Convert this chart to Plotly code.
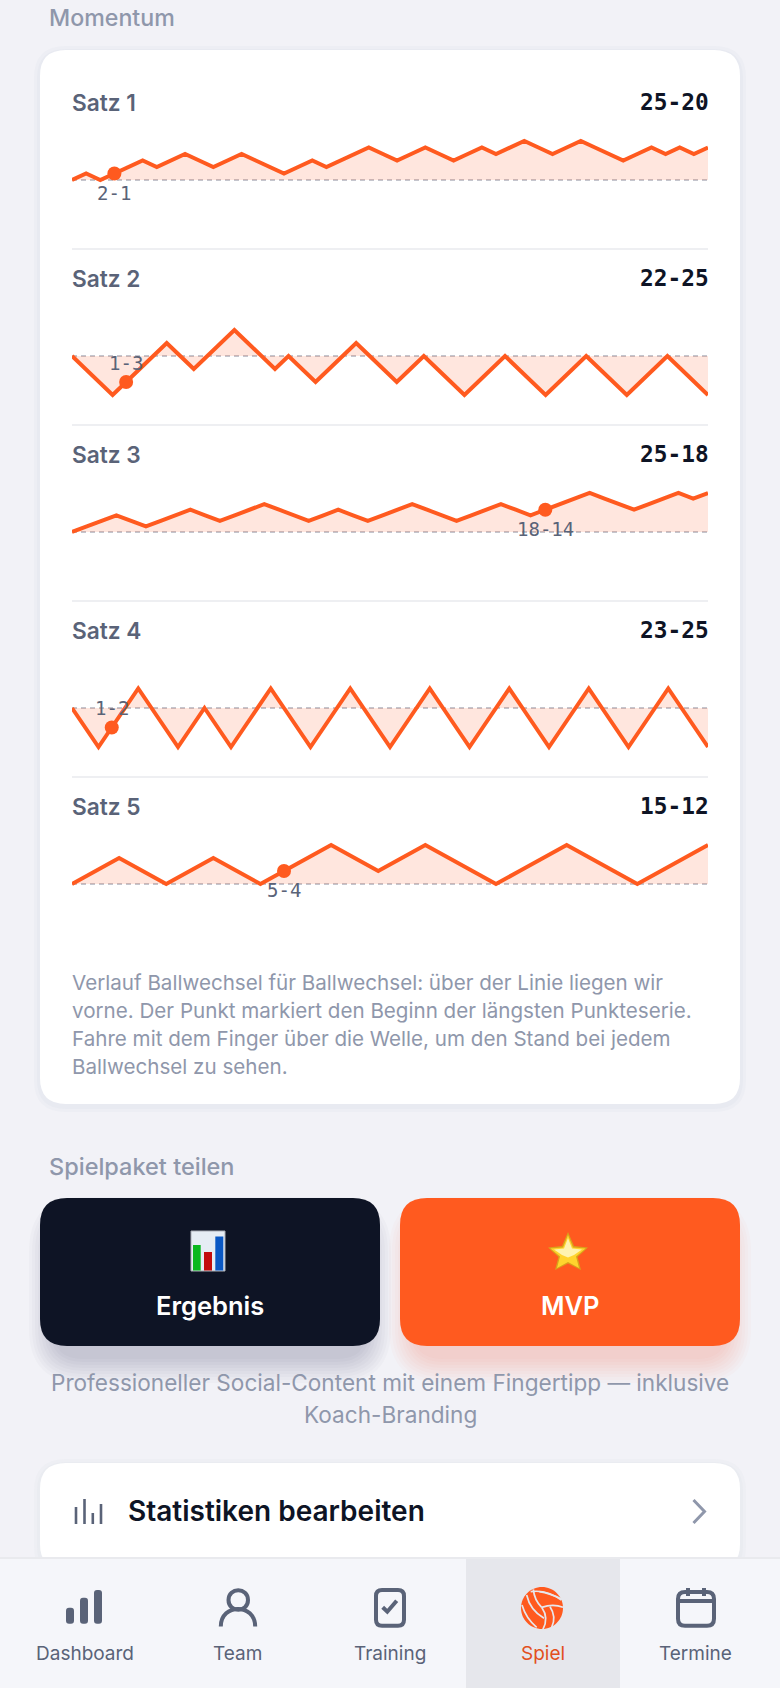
import plotly.graph_objects as go

W, H = 780, 1688

set_names = ["Satz 1", "Satz 2", "Satz 3", "Satz 4", "Satz 5"]
set_scores = ["25-20", "22-25", "25-18", "23-25", "15-12"]

# score difference after each rally
diff_1 = [0, 1, 0, 1, 2, 3, 2, 3, 4, 3, 2, 3, 4, 3, 2, 1, 2, 3, 2, 3, 4, 5, 4, 3, 4, 5, 4, 3, 4, 5, 4, 5, 6, 5, 4, 5, 6, 5, 4, 3, 4, 5, 4, 5, 4, 5]
diff_2 = [0, -1, -2, -3, -2, -1, 0, 1, 0, -1, 0, 1, 2, 1, 0, -1, 0, -1, -2, -1, 0, 1, 0, -1, -2, -1, 0, -1, -2, -3, -2, -1, 0, -1, -2, -3, -2, -1, 0, -1, -2, -3, -2, -1, 0, -1, -2, -3]
diff_3 = [0, 1, 2, 3, 2, 1, 2, 3, 4, 3, 2, 3, 4, 5, 4, 3, 2, 3, 4, 3, 2, 3, 4, 5, 4, 3, 2, 3, 4, 5, 4, 3, 4, 5, 6, 7, 6, 5, 4, 5, 6, 7, 6, 7]
diff_4 = [0, -1, -2, -1, 0, 1, 0, -1, -2, -1, 0, -1, -2, -1, 0, 1, 0, -1, -2, -1, 0, 1, 0, -1, -2, -1, 0, 1, 0, -1, -2, -1, 0, 1, 0, -1, -2, -1, 0, 1, 0, -1, -2, -1, 0, 1, 0, -1, -2]
diff_5 = [0, 1, 2, 1, 0, 1, 2, 1, 0, 1, 2, 3, 2, 1, 2, 3, 2, 1, 0, 1, 2, 3, 2, 1, 0, 1, 2, 3]
set_diffs = [diff_1, diff_2, diff_3, diff_4, diff_5]

# start of the longest run of points
run_rally = [3, 4, 32, 3, 9]
run_label = ["2-1", "1-3", "18-14", "1-2", "5-4"]

note_lines = [
    "Verlauf Ballwechsel für Ballwechsel: über der Linie liegen wir",
    "vorne. Der Punkt markiert den Beginn der längsten Punkteserie.",
    "Fahre mit dem Finger über die Welle, um den Stand bei jedem",
    "Ballwechsel zu sehen.",
]
nav_labels = ["Dashboard", "Team", "Training", "Spiel", "Termine"]
nav_centers = [84.5, 237, 390, 543, 695.5]

ORANGE = "#ff5a1f"
NAVY = "#0e1425"
SLATE = "#5a6378"
MUTED = "#8f97ab"
BG = "#f2f2f7"
FONT = "Inter"
MONO = "DejaVu Sans Mono"

row_base = [180, 356, 532, 708, 884]
row_title = [102, 278, 454, 630, 806]
row_rule = [249, 425, 601, 777]
half = 44  # px above and below the zero line
left, right = 72, 708

shapes, notes = [], []


def rrect(x0, y0, x1, y1, r):
    return (f"M {x0+r} {y0} L {x1-r} {y0} Q {x1} {y0} {x1} {y0+r} L {x1} {y1-r} Q {x1} {y1} {x1-r} {y1} "
            f"L {x0+r} {y1} Q {x0} {y1} {x0} {y1-r} L {x0} {y0+r} Q {x0} {y0} {x0+r} {y0} Z")


def fill(path, color, opacity=1):
    shapes.append(dict(type="path", path=path, xref="x", yref="y", layer="below", fillcolor=color,
                       opacity=opacity, line=dict(width=0)))


def stroke(path, color=SLATE, width=4):
    shapes.append(dict(type="path", path=path, xref="x", yref="y", layer="below", fillcolor="rgba(0,0,0,0)",
                       line=dict(color=color, width=width)))


def text(x, y, s, size, color, anchor="left", family=FONT, weight=400):
    notes.append(dict(x=x, y=y, xref="x", yref="y", text=s, showarrow=False, xanchor=anchor, yanchor="middle",
                      font=dict(family=family, size=size, color=color, weight=weight)))


def shadow(x0, y0, x1, y1, r, color, dy, spread, alpha, inset=0):
    for k in range(spread, 0, -3):
        fill(rrect(x0 - k + inset, y0 + dy - k + inset, x1 + k - inset, y1 + dy + k, r + k), color, alpha)


# cards
shadow(40, 50, 740, 1104, 26, "#8a90a8", 2, 6, 0.04)
fill(rrect(40, 50, 740, 1104, 26), "white")
shadow(40, 1198, 380, 1346, 27, NAVY, 10, 27, 0.02, 16)
shadow(400, 1198, 740, 1346, 27, ORANGE, 10, 27, 0.024, 16)
fill(rrect(40, 1198, 380, 1346, 27), NAVY)
fill(rrect(400, 1198, 740, 1346, 27), ORANGE)
shadow(40, 1463, 740, 1570, 26, "#8a90a8", 2, 6, 0.03)
fill(rrect(40, 1463, 740, 1570, 26), "white")

text(47, 18, "Momentum", 23.2, MUTED, weight=500)
for name, score, ty in zip(set_names, set_scores, row_title):
    text(left - 2, ty, name, 22.7, SLATE, weight=600)
    text(right + 3, ty, score, 22.8, NAVY, "right", MONO, 700)
for ry in row_rule:
    shapes.append(dict(type="line", x0=left, x1=right, y0=ry, y1=ry, xref="x", yref="y", layer="below",
                       line=dict(color="#eeeff2", width=2)))
for line, ny in zip(note_lines, [982, 1010, 1038, 1066]):
    text(left - 2, ny, line, 20.6, MUTED)

# share buttons
text(47, 1166, "Spielpaket teilen", 23.5, MUTED, weight=500)
fill("M 191 1231 L 225 1231 L 225 1271 L 191 1271 Z", "#e6edf4")
stroke("M 191 1231 L 225 1231 L 225 1271 L 191 1271 Z", "#a9adb5", 1)
fill("M 193 1245 L 200.7 1245 L 200.7 1270.5 L 193 1270.5 Z", "#0ab81e")
fill("M 204 1252 L 212 1252 L 212 1270.5 L 204 1270.5 Z", "#c30d0d")
fill("M 215.3 1236.5 L 223.3 1236.5 L 223.3 1270.5 L 215.3 1270.5 Z", "#0a58c4")
star = "M 568 1232 L 574 1246 L 588 1247.5 L 577.5 1257 L 581 1270 L 568 1263.5 L 555 1270 L 558.5 1257 L 548 1247.5 L 562 1246 Z"
star_in = "M 568 1235 L 573 1247.5 L 585.5 1248.5 L 576 1256.5 L 579 1268 L 568 1262 L 557 1268 L 560 1256.5 L 550.5 1248.5 L 563 1247.5 Z"
star_hi = "M 568 1238 L 572 1248.5 L 582 1249.5 L 574 1255 L 568 1257.5 L 562 1255 L 554 1249.5 L 564 1248.5 Z"
fill(star, "#d9a21c")
fill(star_in, "#ffd42e")
fill(star_hi, "#fff3b0")
text(210, 1305, "Ergebnis", 25.5, "white", "center", weight=600)
text(570, 1305, "MVP", 25.5, "white", "center", weight=600)
text(390, 1382, "Professioneller Social-Content mit einem Fingertipp — inklusive", 22.6, MUTED, "center")
text(390, 1414, "Koach-Branding", 22.6, MUTED, "center")

# edit row
for bx, top in zip([76, 84.5, 92.8, 101], [1507, 1499, 1513, 1504]):
    stroke(f"M {bx} {top} L {bx} 1524", SLATE, 2.6)
text(126, 1510.5, "Statistiken bearbeiten", 28, NAVY, weight=600)
stroke("M 693.5 1500 L 704.5 1511.5 L 693.5 1523", MUTED, 3)

# bottom navigation
fill(f"M 0 1557 L {W} 1557 L {W} {H} L 0 {H} Z", "#e9eaee")
fill(f"M 0 1559 L {W} 1559 L {W} {H} L 0 {H} Z", "#f5f6fa")
fill(f"M 466 1559 L 620 1559 L 620 {H} L 466 {H} Z", "#e6e7ec")
for lab, cx in zip(nav_labels, nav_centers):
    text(cx, 1653, lab, 19, "#e2501d" if lab == "Spiel" else SLATE, "center")

fill(rrect(66, 1607.7, 74, 1623.7, 3), SLATE)
fill(rrect(80, 1597.7, 88, 1623.7, 3), SLATE)
fill(rrect(94, 1590, 102, 1623.7, 3), SLATE)
stroke("M 248 1600 C 248 1587 228.5 1587 228.5 1600 C 228.5 1613 248 1613 248 1600 Z")
stroke("M 220.8 1626.5 C 220.8 1603 255.2 1603 255.2 1626.5")
stroke(rrect(376, 1590, 404, 1625.7, 6))
stroke("M 382.7 1607.3 L 387.3 1611.7 L 396.7 1600.7")
stroke(rrect(678, 1592, 714, 1625.7, 7))
stroke("M 678 1601 L 714 1601")
stroke("M 688 1588 L 688 1596")
stroke("M 704 1588 L 704 1596")

k = 21 * 0.5523
fill(f"M 521 1608 C 521 {1608-k} {542-k} 1587 542 1587 C {542+k} 1587 563 {1608-k} 563 1608 "
     f"C 563 {1608+k} {542+k} 1629 542 1629 C {542-k} 1629 521 {1608+k} 521 1608 Z", ORANGE)
ball_lines = [
    ((92, 125), (140, 118), (184, 150)),
    ((100, 118), (103, 150), (125, 172)),
    ((80, 135), (90, 180), (132, 205)),
    ((66, 165), (78, 205), (110, 232)),
    ((125, 172), (160, 160), (189, 172)),
    ((125, 172), (148, 205), (128, 240)),
    ((150, 170), (170, 200), (155, 232)),
    ((118, 125), (150, 130), (186, 148)),
]
for a, b, c in ball_lines:
    pts = [(500 + p[0] / 3, 1550 + p[1] / 3) for p in (a, b, c)]
    stroke(f"M {pts[0][0]} {pts[0][1]} Q {pts[1][0]} {pts[1][1]} {pts[2][0]} {pts[2][1]}", "#e6e7ec", 1.7)

fig = go.Figure()
layout_axes = dict(
    xaxis=dict(domain=[0, 1], range=[0, W], visible=False, fixedrange=True),
    yaxis=dict(domain=[0, 1], range=[H, 0], visible=False, fixedrange=True),
)

for i, diffs in enumerate(set_diffs):
    n = i + 2
    xs = list(range(len(diffs)))
    peak = max(abs(v) for v in diffs)
    ymax = peak * half / 39
    base = row_base[i]
    xname, yname = f"x{n}", f"y{n}"
    layout_axes[f"xaxis{n}"] = dict(domain=[left / W, right / W], range=[0, xs[-1]], visible=False,
                                    fixedrange=True, anchor=yname)
    layout_axes[f"yaxis{n}"] = dict(domain=[1 - (base + half) / H, 1 - (base - half) / H], range=[-ymax, ymax],
                                    visible=False, fixedrange=True, anchor=xname)
    fig.add_trace(go.Scatter(x=[0, xs[-1]], y=[0, 0], xaxis=xname, yaxis=yname, mode="lines", hoverinfo="skip",
                             line=dict(color="#c4c5cd", width=1.8, dash="5px,4px")))
    fig.add_trace(go.Scatter(x=xs, y=diffs, xaxis=xname, yaxis=yname, mode="lines", fill="tozeroy",
                             fillcolor="rgba(255,90,31,0.15)", line=dict(color=ORANGE, width=4)))
    r = run_rally[i]
    fig.add_trace(go.Scatter(x=[r], y=[diffs[r]], xaxis=xname, yaxis=yname, mode="markers", cliponaxis=False,
                             marker=dict(color=ORANGE, size=14)))
    notes.append(dict(x=r, y=diffs[r], xref=xname, yref=yname, text=run_label[i], showarrow=False, xanchor="center",
                      yanchor="middle", yshift=-19 if diffs[r] > 0 else 19,
                      font=dict(family=MONO, size=19, color=SLATE)))

fig.update_layout(
    width=W, height=H, margin=dict(l=0, r=0, t=0, b=0), autosize=False,
    paper_bgcolor=BG, plot_bgcolor="rgba(0,0,0,0)", showlegend=False,
    shapes=shapes, annotations=notes, **layout_axes,
)
fig.write_html("out.html", config={"displayModeBar": False},
               post_script="document.body.style.margin='0';document.body.style.background='" + BG + "';")
